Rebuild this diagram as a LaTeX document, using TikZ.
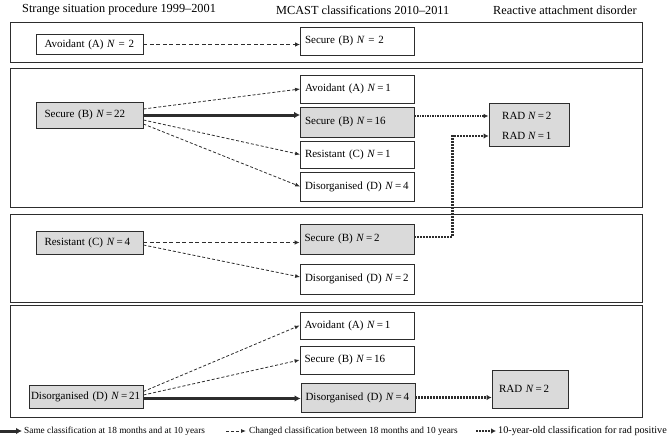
\documentclass[tikz,border=0pt]{standalone}
\usepackage{fontspec}
\setmainfont{Liberation Serif}
\usetikzlibrary{arrows.meta,calc}
\definecolor{ink}{RGB}{45,45,45}
\definecolor{boxgrey}{RGB}{218,218,218}
\begin{document}
\begin{tikzpicture}[x=1pt,y=-1pt,
  panel/.style={draw=ink,line width=0.9pt},
  cbox/.style={draw=ink,line width=0.8pt,font=\fontsize{11}{13}\selectfont,align=left,inner ysep=0pt},
  greyfill/.style={fill=boxgrey},
  leftbox/.style={cbox,minimum width=107pt,text width=90pt,inner xsep=8.5pt},
  midbox/.style={cbox,minimum width=114pt,text width=105pt,inner xsep=4.5pt},
  head/.style={font=\fontsize{12.3}{14}\selectfont,anchor=west,inner sep=0pt},
  legtext/.style={font=\fontsize{9.3}{11}\selectfont,anchor=west,inner sep=0pt},
  radtext/.style={font=\fontsize{11}{13}\selectfont,anchor=west,inner sep=0pt},
  samearrow/.style={draw=ink,line width=3pt,-{Latex[length=6pt,width=6.5pt]}},
  changedarrow/.style={draw=ink,line width=0.8pt,dash pattern=on 3pt off 2pt,-{Latex[length=5pt,width=4pt]}},
  changedthick/.style={draw=ink,line width=1.6pt,dash pattern=on 4pt off 2.5pt,-{Latex[length=5pt,width=4.5pt]}},
  radarrow/.style={draw=ink,line width=2.4pt,dash pattern=on 2pt off 1pt,-{Latex[length=5pt,width=5.5pt]}},
  radthin/.style={draw=ink,line width=1.6pt,dash pattern=on 1.5pt off 1pt,-{Latex[length=5pt,width=4.5pt]}}
]
\useasboundingbox (0,0) rectangle (667,436);

% headers
\node[head] (h1) at (22,10) {Strange situation procedure 1999--2001};
\node[head] (h2) at (276,10) {MCAST classifications 2010--2011};
\node[head] (h3) at (493,10) {Reactive attachment disorder};

% panels
\draw[panel] (10.5,22) rectangle (642,62);
\draw[panel] (10.5,68) rectangle (642,207);
\draw[panel] (10.5,214) rectangle (642,302);
\draw[panel] (10.5,305.5) rectangle (642,417);

% panel 1
\node[leftbox,minimum height=20pt] (L1) at (89.5,44.5) {Avoidant (A) \textit{N} = 2};
\node[midbox,minimum height=28pt] (M1) at (357.5,41) {Secure (B) \textit{N} = 2};

% panel 2
\node[leftbox,greyfill,minimum height=26pt] (L2) at (89.5,115) {Secure (B) \textit{N}\,=\,22};
\node[midbox,minimum height=28pt] (M2a) at (357.5,89) {Avoidant (A) \textit{N}\,=\,1};
\node[midbox,greyfill,minimum height=30pt] (M2b) at (357.5,122) {Secure (B) \textit{N}\,=\,16};
\node[midbox,minimum height=27pt] (M2c) at (357.5,154.5) {Resistant (C) \textit{N}\,=\,1};
\node[midbox,minimum height=29pt] (M2d) at (357.5,186.5) {Disorganised (D) \textit{N}\,=\,4};
\node[cbox,greyfill,minimum width=80pt,minimum height=43pt] (R2) at (529,124.5) {};
\node[radtext] (rad2) at (502,116) {RAD \textit{N}\,=\,2};
\node[radtext] (rad1) at (502,136) {RAD \textit{N}\,=\,1};

% panel 3
\node[leftbox,greyfill,minimum height=23pt] (L3) at (89.5,242.5) {Resistant (C) \textit{N}\,=\,4};
\node[midbox,greyfill,minimum height=30pt] (M3a) at (357,239) {Secure (B) \textit{N}\,=\,2};
\node[midbox,minimum height=30pt] (M3b) at (357.5,279) {Disorganised (D) \textit{N}\,=\,2};

% panel 4
\node[cbox,greyfill,minimum width=114pt,text width=110pt,inner xsep=2pt,minimum height=23pt] (L4) at (86,396.5) {Disorganised (D) \textit{N}\,=\,21};
\node[midbox,minimum height=27pt] (M4a) at (357,325.5) {Avoidant (A) \textit{N}\,=\,1};
\node[midbox,minimum height=28pt] (M4b) at (357,360) {Secure (B) \textit{N}\,=\,16};
\node[midbox,greyfill,minimum height=29pt] (M4c) at (358,397.5) {Disorganised (D) \textit{N}\,=\,4};
\node[cbox,greyfill,minimum width=76pt,text width=62pt,inner xsep=7pt,minimum height=38pt] (R4) at (530,389) {RAD \textit{N}\,=\,2};

% connectors panel 1
\draw[changedthick] (L1.east) -- (M1.west |- L1.east);
% panel 2
\draw[changedarrow] ($(L2.east)+(0,-6)$) -- (M2a.west);
\draw[changedarrow] ($(L2.east)+(0,5)$) -- (M2c.west);
\draw[changedarrow] ($(L2.east)+(0,9)$) -- (M2d.west);
\draw[samearrow] (L2.east) -- (M2b.west |- L2.east);
\draw[radthin] (M2b.east |- rad2) -- (R2.west |- rad2);
% panel 3
\coordinate (bend) at (452.5,0);
\draw[changedthick] (L3.east) -- (M3a.west |- L3.east);
\draw[changedarrow] ($(L3.east)+(0,2.5)$) -- ($(M3b.west)+(0,-2)$);
\draw[radarrow] ($(M3a.east)+(0,-2)$) -| (bend |- rad1) -- (R2.west |- rad1);
% panel 4
\draw[changedarrow] ($(L4.east)+(0,-5)$) -- (M4a.west);
\draw[changedarrow] ($(L4.east)+(0,-1.5)$) -- (M4b.west);
\draw[samearrow] ($(L4.east)+(0,2)$) -- (M4c.west |- {$(L4.east)+(0,2)$});
\draw[radarrow] (M4c.east) -- (R4.west |- M4c.east);

% legend
\coordinate (lg1a) at (0,431);
\coordinate (lg1b) at (22,431);
\draw[samearrow] (lg1a) -- (lg1b);
\node[legtext] (lt1) at (24,431) {Same classification at 18 months and at 10 years};
\coordinate (lg2a) at (226,431);
\coordinate (lg2b) at (246,431);
\draw[changedarrow] (lg2a) -- (lg2b);
\node[legtext] (lt2) at (249,431) {Changed classification between 18 months and 10 years};
\coordinate (lg3a) at (476,431);
\coordinate (lg3b) at (496,431);
\draw[radarrow] (lg3a) -- (lg3b);
\node[legtext,font=\fontsize{10.2}{12}\selectfont] (lt3) at (498,431) {10-year-old classification for rad positive};
\end{tikzpicture}
\end{document}
